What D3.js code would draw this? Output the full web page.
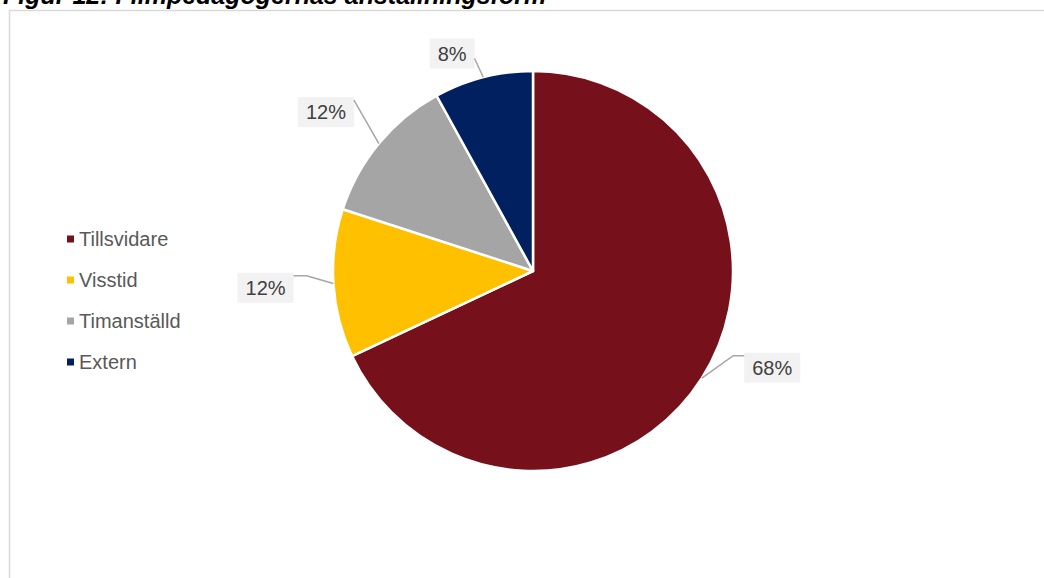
<!DOCTYPE html>
<html>
<head>
<meta charset="utf-8">
<script src="https://cdn.jsdelivr.net/npm/d3@7"></script>
<style>
  html, body { margin: 0; padding: 0; background: #fff; }
  svg { display: block; }
</style>
</head>
<body>
<svg id="chart" width="1044" height="578"></svg>
<script>
// ---- data ----
const categories = ["Tillsvidare", "Visstid", "Timanställd", "Extern"];
const values = [68, 12, 12, 8];
const labels = ["68%", "12%", "12%", "8%"];
const title = "Figur 12: Filmpedagogernas anställningsform";

// ---- style / layout ----
const colors = ["#76101a", "#ffc000", "#a5a5a5", "#002060"];
const W = 1044, H = 578;
const cx = 533, cy = 271, R = 200;
// label placement: angle (deg, clockwise from top) and distance factor from centre
const labelAngle = [112, 266.4, 307.5, 339.6];
const labelDist = [1.29, 1.34, 1.305, 1.16];
const leaderElbow = [11, 13, 0, 0];
const leaderStartY = [3, 3, 3, 20];

const svg = d3.select("#chart");

// chart border
svg.append("rect")
  .attr("x", 9.5).attr("y", 10.5)
  .attr("width", W + 20).attr("height", H + 20)
  .attr("fill", "none").attr("stroke", "#d9d9d9").attr("stroke-width", 1.5);

// title
svg.append("text")
  .attr("x", 3).attr("y", 3.5)
  .attr("font-family", "Liberation Sans, Arial, sans-serif")
  .attr("font-weight", "bold").attr("font-style", "italic")
  .attr("font-size", 25).attr("fill", "#000")
  .text(title);

const pie = d3.pie().sort(null).value(d => d)(values);
const arc = d3.arc().innerRadius(0).outerRadius(R);

const g = svg.append("g").attr("transform", `translate(${cx},${cy})`);
g.selectAll("path.slice")
  .data(pie)
  .join("path")
  .attr("class", "slice")
  .attr("d", arc)
  .attr("fill", (d, i) => colors[i])
  .attr("stroke", "#fff")
  .attr("stroke-width", 2.5)
  .attr("stroke-linejoin", "round");

// data labels
const fontFam = "Liberation Sans, Arial, sans-serif";
pie.forEach((d, i) => {
  const mid = (d.startAngle + d.endAngle) / 2;
  const la = labelAngle[i] * Math.PI / 180;
  const lx = Math.sin(la) * R * labelDist[i];
  const ly = -Math.cos(la) * R * labelDist[i];
  const px = Math.sin(mid) * R;
  const py = -Math.cos(mid) * R;

  const t = g.append("text")
    .attr("font-family", fontFam).attr("font-size", 20)
    .attr("fill", "#404040")
    .attr("text-anchor", "middle")
    .attr("x", lx).attr("y", ly + 7)
    .text(labels[i]);
  const tw = t.node().getComputedTextLength();
  const bw = tw + 16, bh = 30;
  const bx = lx - bw / 2, by = ly - bh / 2;
  g.insert("rect", "text")
    .attr("x", bx).attr("y", by).attr("width", bw).attr("height", bh)
    .attr("fill", "#f2f2f2");

  // leader line
  const leftSide = lx < px;
  const sx = leftSide ? bx + bw : bx;
  const sy = by + leaderStartY[i];
  const ex = sx + (leftSide ? leaderElbow[i] : -leaderElbow[i]);
  g.append("path")
    .attr("d", d3.line()([[sx, sy], [ex, sy], [px, py]]))
    .attr("fill", "none").attr("stroke", "#a6a6a6").attr("stroke-width", 1.5);
});

// legend
const lg = svg.append("g");
categories.forEach((c, i) => {
  const y = 239 + i * 41;
  lg.append("rect")
    .attr("x", 67).attr("y", y - 3.5).attr("width", 7).attr("height", 7)
    .attr("fill", colors[i]);
  lg.append("text")
    .attr("x", 79).attr("y", y + 7)
    .attr("font-family", fontFam).attr("font-size", 20)
    .attr("fill", "#595959")
    .text(c);
});
</script>
</body>
</html>
